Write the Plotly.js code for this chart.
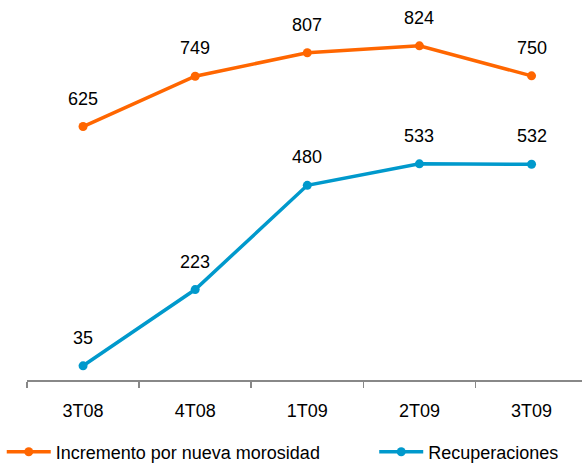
<!DOCTYPE html>
<html>
<head>
<meta charset="utf-8">
<script src="https://cdn.plot.ly/plotly-3.0.1.min.js"></script>
<style>html,body{margin:0;padding:0;background:#fff}#chart{width:582px;height:467px}</style>
</head>
<body>
<div id="chart"></div>
<script>
const categories = ["3T08", "4T08", "1T09", "2T09", "3T09"];
const incremento = [625, 749, 807, 824, 750];
const recuperaciones = [35, 223, 480, 533, 532];
const seriesNames = ["Incremento por nueva morosidad", "Recuperaciones"];
const colors = ["#FF6600", "#0099CC"];

const font = "Liberation Sans, Arial, sans-serif";

function trace(y, name, color, legendId) {
  return {
    x: categories, y: y, name: name, type: "scatter", mode: "lines+markers",
    line: {color: color, width: 3.5},
    marker: {color: color, size: 9},
    cliponaxis: false, legend: legendId
  };
}

const annotations = [];
[incremento, recuperaciones].forEach(arr => {
  arr.forEach((v, i) => {
    annotations.push({
      x: categories[i], y: v, xref: "x", yref: "y",
      text: String(v), showarrow: false, yanchor: "bottom", yshift: 16,
      font: {family: font, size: 18, color: "#000"}
    });
  });
});

function legendAt(x) {
  return {
    orientation: "h", xref: "container", yref: "container",
    x: x, xanchor: "left", y: 0.032, yanchor: "middle",
    font: {family: font, size: 18, color: "#000"},
    itemwidth: 44, bgcolor: "rgba(0,0,0,0)"
  };
}

const layout = {
  width: 582, height: 467,
  margin: {l: 27, r: 0, t: 0, b: 87},
  paper_bgcolor: "#fff", plot_bgcolor: "#fff",
  font: {family: font, size: 18, color: "#000"},
  showlegend: true,
  legend: legendAt(0.003),
  legend2: legendAt(0.643),
  xaxis: {
    type: "category", range: [-0.5, 4.45],
    showline: true, linecolor: "#888", linewidth: 1.5,
    ticks: "outside", tickson: "boundaries", ticklen: 6, tickcolor: "#888", tickwidth: 1.5,
    ticklabelstandoff: 14,
    showgrid: false, zeroline: false,
    tickfont: {family: font, size: 18, color: "#000"}
  },
  yaxis: {
    range: [0, 937], visible: false, showgrid: false, zeroline: false
  },
  annotations: annotations
};

Plotly.newPlot("chart", [
  trace(incremento, seriesNames[0], colors[0], "legend"),
  trace(recuperaciones, seriesNames[1], colors[1], "legend2")
], layout, {staticPlot: true, displayModeBar: false});
</script>
</body>
</html>
